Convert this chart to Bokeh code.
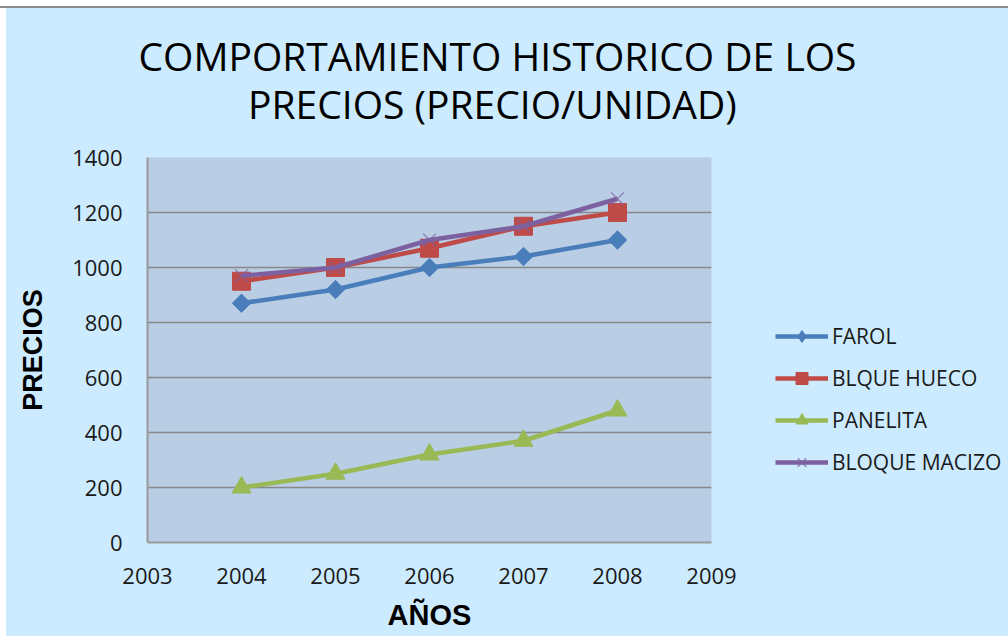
import math
from bokeh.plotting import figure
from bokeh.layouts import column, row
from bokeh.models import Legend, LegendItem, Label, FixedTicker, Range1d, ColumnDataSource
from bokeh.embed import file_html
from bokeh.resources import INLINE

years = [2004, 2005, 2006, 2007, 2008]
farol = [870, 920, 1000, 1040, 1100]
bloque_hueco = [950, 1000, 1070, 1150, 1200]
panelita = [200, 250, 320, 370, 480]
bloque_macizo = [970, 1000, 1100, 1150, 1250]
x_ticks = [2003, 2004, 2005, 2006, 2007, 2008, 2009]
y_ticks = [0, 200, 400, 600, 800, 1000, 1200, 1400]
title_lines = ["COMPORTAMIENTO HISTORICO DE LOS", "PRECIOS  (PRECIO/UNIDAD)"]

BG = "#CCEBFE"
PLOT_BG = "#B9CDE5"

TOTAL_W = 1002
TITLE_H = 131
MAIN_W, MAIN_H = 735, 497
LEG_W = TOTAL_W - MAIN_W


def blank(width, height):
    f = figure(width=width, height=height, output_backend="svg", toolbar_location=None,
               x_range=Range1d(0, width), y_range=Range1d(0, height),
               min_border=0, background_fill_color=BG, border_fill_color=BG,
               outline_line_color=None)
    f.axis.visible = False
    f.grid.visible = False
    return f


# ---- title strip ----
pt = blank(TOTAL_W, TITLE_H)
for txt, ty in zip(title_lines, [84, 36]):
    pt.add_layout(Label(x=491, y=ty, x_units="screen", y_units="screen", text=txt,
                        text_align="center", text_baseline="middle",
                        text_font="Open Sans", text_font_size="39px", text_color="#000000"))

# ---- main chart ----
p = figure(width=MAIN_W, height=MAIN_H, output_backend="svg", toolbar_location=None,
           x_range=Range1d(x_ticks[0], x_ticks[-1]), y_range=Range1d(y_ticks[0], y_ticks[-1]),
           min_border_left=141, min_border_right=30, min_border_top=18, min_border_bottom=94,
           background_fill_color=PLOT_BG, border_fill_color=BG, outline_line_color=None)

p.xaxis.ticker = FixedTicker(ticks=x_ticks)
p.yaxis.ticker = FixedTicker(ticks=y_ticks)
p.xgrid.visible = False
p.ygrid.grid_line_color = "#888888"
p.ygrid.grid_line_width = 1.5
for ax in (p.xaxis, p.yaxis):
    ax.axis_line_color = "#9A9A9A"
    ax.axis_line_width = 2
    ax.major_tick_line_color = None
    ax.minor_tick_line_color = None
    ax.major_label_text_font = "Open Sans"
    ax.major_label_text_font_size = "22px"
    ax.major_label_text_color = "#1a1a1a"
    ax.axis_label_text_font = "Liberation Sans"
    ax.axis_label_text_font_style = "bold"
    ax.axis_label_text_color = "#000000"
p.xaxis.axis_label_text_font_size = "29px"
p.yaxis.axis_label_text_font_size = "27px"
p.xaxis.major_label_standoff = 19
p.yaxis.major_label_standoff = 19
p.xaxis.axis_label = "AÑOS"
p.yaxis.axis_label = "PRECIOS"
p.xaxis.axis_label_standoff = 12
p.yaxis.axis_label_standoff = 21

src = ColumnDataSource(dict(x=years, farol=farol, hueco=bloque_hueco,
                            panelita=panelita, macizo=bloque_macizo))

# name, column, color, marker (chart), size, angle, marker (legend)
series = [
    ("FAROL", "farol", "#4A7EBB", "square", 13, math.pi / 4, "diamond"),
    ("BLQUE HUECO", "hueco", "#BE4B48", "square", 18, 0, "square"),
    ("PANELITA", "panelita", "#98B954", "triangle", 19, 0, "triangle"),
    ("BLOQUE MACIZO", "macizo", "#7D60A0", "x", 18, 0, "x"),
]

# ---- legend strip (same series, outside its visible range; only its legend shows) ----
pl = blank(LEG_W, MAIN_H)
items = []
for name, col, color, marker, size, ang, leg_marker in series:
    for fig in (p, pl):
        m = marker if fig is p else leg_marker
        a = ang if fig is p else 0
        ln = fig.line("x", col, source=src, line_color=color, line_width=4.5)
        if m == "x":
            mk = fig.scatter("x", col, source=src, marker="x", size=size,
                             line_color=color, line_width=1.2, line_alpha=0.8)
        else:
            mk = fig.scatter("x", col, source=src, marker=m, size=size, angle=a,
                             fill_color=color, line_color=color)
    items.append(LegendItem(label=name, renderers=[ln, mk]))

legend = Legend(items=items, location=(34, 65), orientation="vertical",
                background_fill_alpha=0, border_line_color=None,
                glyph_width=53, glyph_height=30, label_height=20, label_standoff=4, spacing=12,
                padding=0, margin=0,
                label_text_font="Open Sans", label_text_font_size="21px",
                label_text_color="#1a1a1a")
pl.add_layout(legend, "center")

layout = column(pt, row(p, pl, spacing=0), spacing=0)
layout.styles = {
    "background-color": BG,
    "border-style": "solid",
    "border-width": "8px 0px 0px 6px",
    "border-color": "#ffffff",
    "border-image": "linear-gradient(to bottom, #ffffff 0px, #ffffff 6px, #8c8c8c 6px, #8c8c8c 8px, #ffffff 8px) 8 0 0 6",
}

open("out.html", "w").write(file_html(layout, INLINE))
